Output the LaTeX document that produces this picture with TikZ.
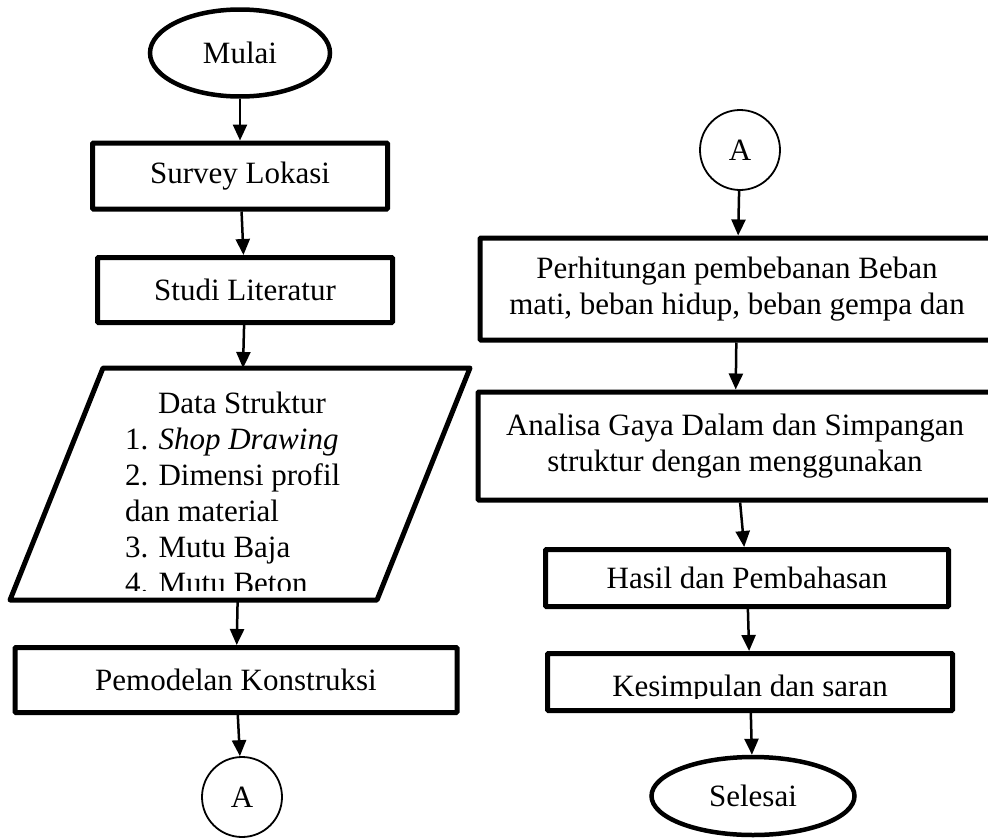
\documentclass[tikz,border=0pt]{standalone}
\usepackage{fontspec}
\setmainfont{Liberation Serif}
\usetikzlibrary{shapes.geometric,arrows.meta,positioning}

\begin{document}
\begin{tikzpicture}[
    x=1pt, y=-1pt,
    txt/.style={font=\fontsize{31}{36}\selectfont},
    proc/.style={txt, rectangle, draw, line width=5pt, rounded corners=1pt, align=center, inner sep=0pt},
    term/.style={txt, ellipse, draw, line width=4.5pt, inner sep=0pt},
    conn/.style={txt, circle, draw, line width=1.8pt, minimum size=80pt, inner sep=0pt},
    hidden/.style={inner sep=0pt, outer sep=0pt},
    arrow/.style={-{Triangle[length=16pt, width=14pt]}, line width=2.5pt}
]
\clip (0,0) rectangle (988,838);

% left column
\node[term, minimum width=180, minimum height=87] (mulai) at (240,53) {Mulai};
\node[proc, minimum width=295, minimum height=66] (survey) at (240,176) {Survey Lokasi};
\node[proc, minimum width=295, minimum height=65] (studi) at (245,290) {Studi Literatur};
\node[hidden, minimum width=460, minimum height=232] (data) at (240,484) {};
\draw[line width=5pt, line join=round] (data.south west) -- ([xshift=93pt]data.north west)
    -- (data.north east) -- ([xshift=-93pt]data.south east) -- cycle;
\begin{scope}
  \clip (0,368) rectangle (988,590);
  \node[txt, hidden, anchor=north west, align=left] (datatxt) at (125,392)
    {\hspace*{33pt}Data Struktur\\1. \textit{Shop Drawing}\\2. Dimensi profil\\dan material\\3. Mutu Baja\\4. Mutu Beton};
\end{scope}
\node[proc, minimum width=442, minimum height=65] (model) at (236,680) {Pemodelan Konstruksi};
\node[conn] (a1) at (242,797) {A};

% right column
\node[conn] (a2) at (740,150) {A};
\node[proc, minimum width=514, minimum height=102] (beban) at (737,289)
    {Perhitungan pembebanan Beban\\mati, beban hidup, beban gempa dan};
\node[proc, minimum width=514, minimum height=108] (analisa) at (735,446)
    {Analisa Gaya Dalam dan Simpangan\\struktur dengan menggunakan};
\node[proc, minimum width=403, minimum height=57] (hasil) at (747,578) {Hasil dan Pembahasan};
\node[proc, minimum width=405, minimum height=57] (simpul) at (750,682) {};
\begin{scope}
  \clip (548,654) rectangle (953,698);
  \node[txt, hidden, anchor=base] (simpultxt) at (750,696) {Kesimpulan dan saran};
\end{scope}
\node[term, minimum width=203, minimum height=78] (selesai) at (753,796) {Selesai};

\draw[arrow] (mulai) -- (survey);
\draw[arrow] (survey) -- (studi);
\draw[arrow] (studi) -- (data);
\draw[arrow] (data) -- (model);
\draw[arrow] (model) -- (a1);
\draw[arrow] (a2) -- (beban);
\draw[arrow] (beban) -- (analisa);
\draw[arrow] (analisa) -- (hasil);
\draw[arrow] (hasil) -- (simpul);
\draw[arrow] (simpul) -- (selesai);
\end{tikzpicture}
\end{document}
